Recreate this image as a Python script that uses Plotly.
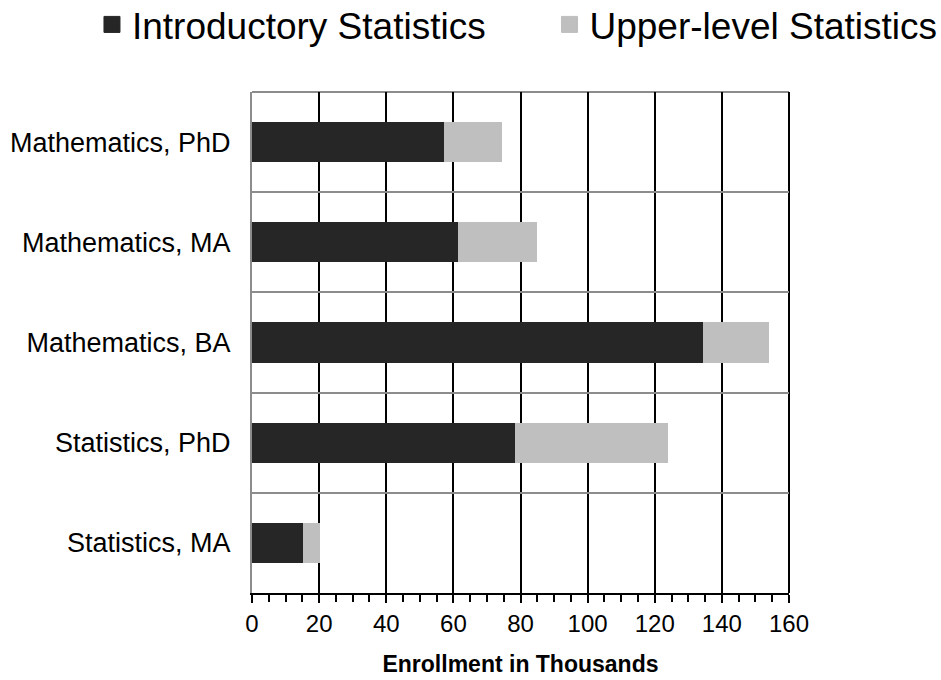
import plotly.graph_objects as go

# Enrollment (thousands) by department type, listed top to bottom
departments = ["Mathematics, PhD", "Mathematics, MA", "Mathematics, BA",
               "Statistics, PhD", "Statistics, MA"]
intro_stats = [57.1, 61.3, 134.4, 78.5, 15.3]
upper_stats = [17.3, 23.7, 19.7, 45.4, 5.0]
x_ticks = [0, 20, 40, 60, 80, 100, 120, 140, 160]

DARK = "#262626"
LIGHT = "#bfbfbf"
FONT = "Liberation Sans, Arial, sans-serif"

fig = go.Figure()
fig.add_trace(go.Bar(y=departments, x=intro_stats, orientation="h",
                     name="Introductory Statistics", marker_color=DARK,
                     marker_line_width=0, showlegend=False))
fig.add_trace(go.Bar(y=departments, x=upper_stats, orientation="h",
                     name="Upper-level Statistics", marker_color=LIGHT,
                     marker_line_width=0, showlegend=False))

# square legend swatches, one legend box each
for name, col, lg in [("Introductory Statistics", DARK, "legend"),
                      ("Upper-level Statistics", LIGHT, "legend2")]:
    fig.add_trace(go.Scatter(x=[None], y=[None], mode="markers", name=name,
                             legend=lg,
                             marker=dict(symbol="square", size=16, color=col,
                                         line=dict(color=col, width=1))))

legend_style = dict(orientation="h", xanchor="left", y=1.134, yanchor="middle",
                    font=dict(size=37, family=FONT), itemsizing="trace",
                    bgcolor="rgba(0,0,0,0)")

fig.update_layout(
    width=941, height=680,
    margin=dict(l=252, r=152, t=92, b=87, autoexpand=False),
    paper_bgcolor="white", plot_bgcolor="white",
    barmode="stack", bargap=0.6,
    font=dict(family=FONT, color="black"),
    legend=dict(x=-0.298, **legend_style),
    legend2=dict(x=0.554, **legend_style),
    xaxis=dict(range=[0, 160], tickvals=x_ticks, ticktext=[str(v) for v in x_ticks],
               showgrid=True, gridcolor="black", gridwidth=2,
               showline=True, linecolor="black", linewidth=2,
               ticks="outside", ticklen=8, tickwidth=2, tickcolor="black",
               minor=dict(dtick=5, ticks="outside", ticklen=7, tickwidth=2,
                          tickcolor="black", showgrid=False),
               tickfont=dict(size=24, family=FONT),
               title=dict(text="<b>Enrollment in Thousands</b>", standoff=20,
                          font=dict(size=23, family=FONT)),
               zeroline=False, fixedrange=True, automargin=False),
    yaxis=dict(type="category", categoryorder="array", categoryarray=departments,
               range=[4.5, -0.5], tickson="boundaries",
               showgrid=True, gridcolor="#8c8c8c", gridwidth=2,
               showline=True, linecolor="#8c8c8c", linewidth=2,
               ticks="", ticklabelstandoff=14,
               tickfont=dict(size=27, family=FONT), zeroline=False,
               fixedrange=True, automargin=False),
    shapes=[
        dict(type="line", xref="paper", yref="paper", x0=0, x1=1, y0=1, y1=1,
             line=dict(color="#8c8c8c", width=2), layer="below"),
        dict(type="line", xref="paper", yref="paper", x0=1, x1=1, y0=0, y1=1,
             line=dict(color="black", width=2), layer="below"),
    ],
)

fig.write_html("out.html")
